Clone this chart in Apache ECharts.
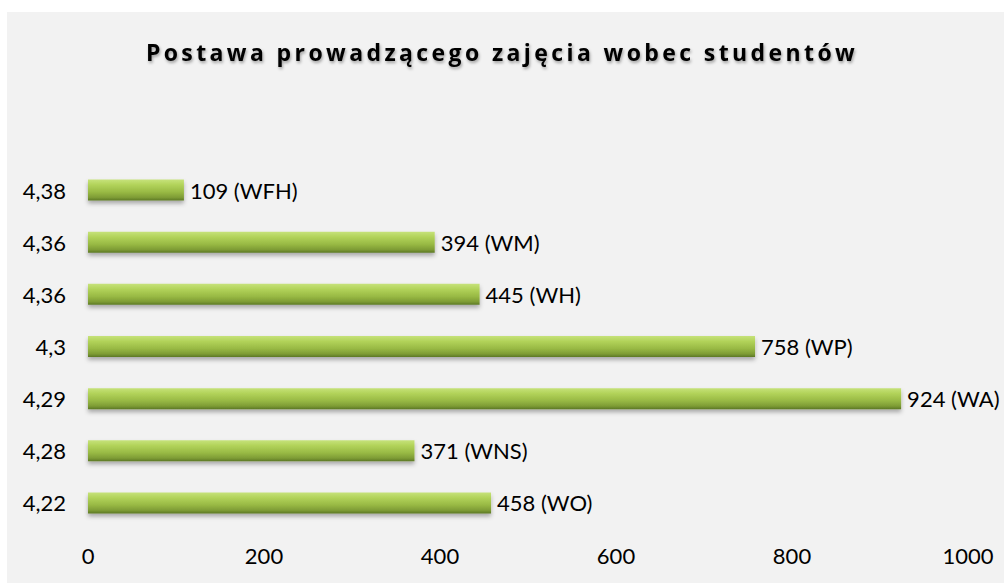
<!DOCTYPE html>
<html>
<head>
<meta charset="utf-8">
<script src="https://cdn.jsdelivr.net/npm/echarts@6/dist/echarts.min.js"></script>
<style>
  html, body { margin: 0; padding: 0; background: #ffffff; }
  #chart { width: 1004px; height: 583px; }
  #chart text[style*="Open Sans"] { letter-spacing: 3.4px; }
</style>
</head>
<body>
<div id="chart"></div>
<script>
// Data (bottom to top)
const categories = ['WO', 'WNS', 'WA', 'WP', 'WH', 'WM', 'WFH'];
const scores = ['4,22', '4,28', '4,29', '4,3', '4,36', '4,36', '4,38'];
const counts = [458, 371, 924, 758, 445, 394, 109];
const xTicks = [0, 200, 400, 600, 800, 1000];
const titleText = 'Postawa prowadzącego zajęcia wobec studentów';

const chart = echarts.init(document.getElementById('chart'), null, { renderer: 'svg' });

const option = {
  backgroundColor: '#ffffff',
  animation: false,
  graphic: [{
    type: 'rect',
    z: -10,
    shape: { x: 7, y: 12, width: 997, height: 571 },
    style: { fill: '#f2f2f2' },
    silent: true
  }],
  title: {
    text: titleText,
    left: 'center',
    top: 35,
    textStyle: {
      fontFamily: "'Open Sans', sans-serif",
      fontWeight: 'bold',
      fontSize: 23,
      color: '#000000',
      textShadowColor: 'rgba(0,0,0,0.35)',
      textShadowBlur: 3,
      textShadowOffsetX: 1,
      textShadowOffsetY: 2
    }
  },
  grid: {
    left: 88,
    right: 36,
    top: 164,
    bottom: 54,
    containLabel: false
  },
  xAxis: {
    type: 'value',
    min: xTicks[0],
    max: xTicks[xTicks.length - 1],
    interval: xTicks[1] - xTicks[0],
    splitLine: { show: false },
    axisLine: { show: false },
    axisTick: { show: false },
    axisLabel: {
      margin: 15,
      fontFamily: 'Lato, sans-serif',
      fontSize: 22,
      color: '#000000',
      formatter: function (v) { return String(v); }
    }
  },
  yAxis: {
    type: 'category',
    data: categories,
    axisLine: { show: false },
    axisTick: { show: false },
    axisLabel: {
      margin: 22,
      fontFamily: 'Lato, sans-serif',
      fontSize: 22,
      color: '#000000',
      formatter: function (v, i) { return scores[i]; }
    }
  },
  series: [{
    type: 'bar',
    data: counts,
    barWidth: 21,
    itemStyle: {
      color: new echarts.graphic.LinearGradient(0, 0, 0, 1, [
        { offset: 0, color: '#c6e27a' },
        { offset: 0.25, color: '#b2d35a' },
        { offset: 0.6, color: '#98b944' },
        { offset: 0.85, color: '#7e9c35' },
        { offset: 1, color: '#5c7825' }
      ]),
      shadowColor: 'rgba(0,0,0,0.3)',
      shadowBlur: 4,
      shadowOffsetY: 3
    },
    label: {
      show: true,
      position: 'right',
      distance: 6,
      fontFamily: 'Lato, sans-serif',
      fontSize: 22,
      color: '#000000',
      formatter: function (p) { return counts[p.dataIndex] + ' (' + categories[p.dataIndex] + ')'; }
    }
  }]
};
chart.setOption(option);
</script>
</body>
</html>
